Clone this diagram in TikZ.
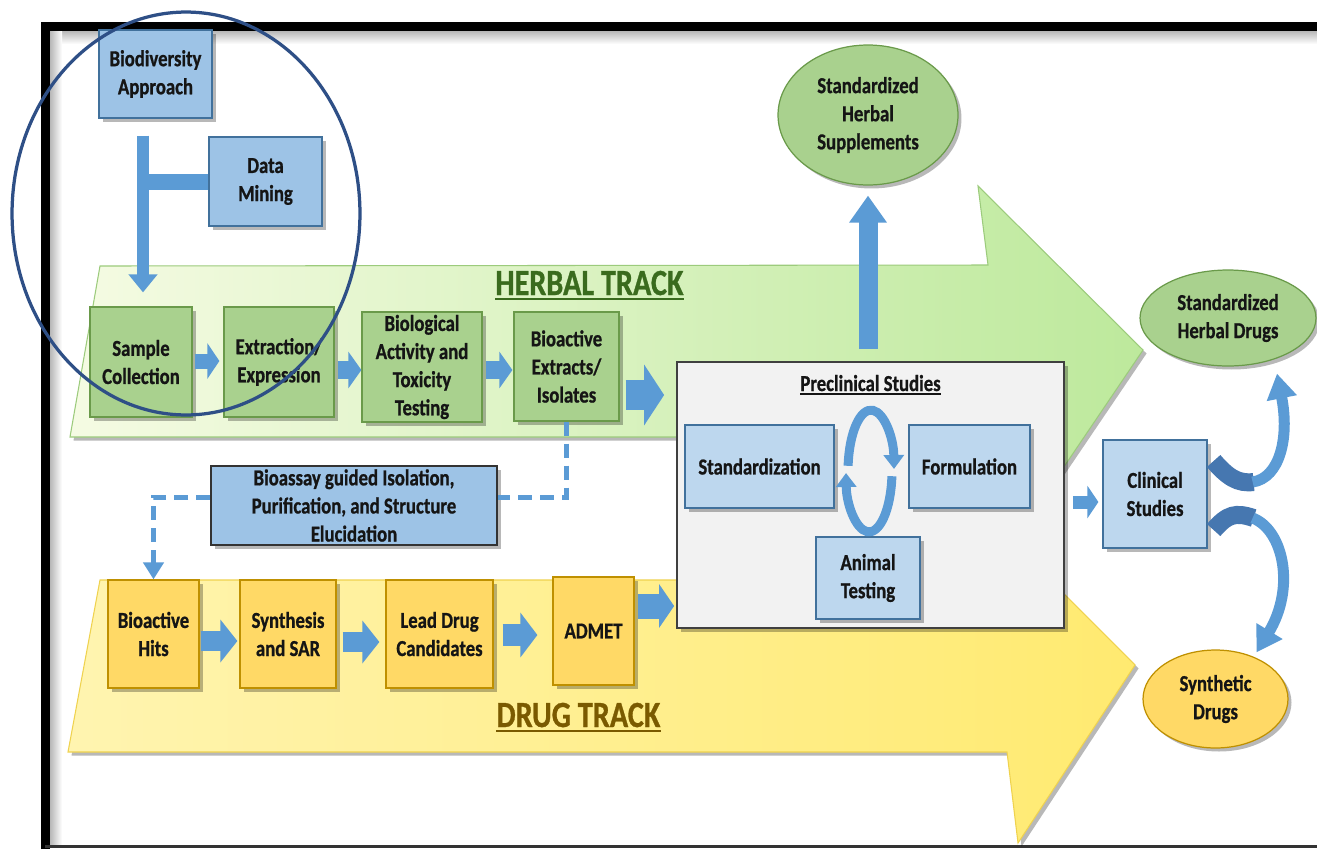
\documentclass[tikz,border=0pt]{standalone}
\usepackage{fontspec}
\setmainfont{Carlito}[FakeStretch=0.82,BoldFeatures={FakeBold=0.8}]
\usetikzlibrary{shapes.geometric,arrows.meta,shadows,calc}
\definecolor{hfill}{HTML}{A9D18E}
\definecolor{hdraw}{HTML}{6A9A4A}
\definecolor{dfill}{HTML}{FFD966}
\definecolor{ddraw}{HTML}{BF9000}
\definecolor{bfill}{HTML}{BDD7EE}
\definecolor{bfill2}{HTML}{9DC3E6}
\definecolor{bdraw}{HTML}{41719C}
\definecolor{arr}{HTML}{5B9BD5}
\definecolor{arrD}{HTML}{4677B0}
\definecolor{circ}{HTML}{2E4F86}
\definecolor{htxt}{HTML}{3A6B1E}
\definecolor{dtxt}{HTML}{7A5A00}
\definecolor{txt}{HTML}{151515}
\definecolor{gl}{HTML}{F5FBE3}
\definecolor{gr}{HTML}{BDE99C}
\definecolor{gedge}{HTML}{9CCB7C}
\definecolor{yl}{HTML}{FFF4B0}
\definecolor{ym}{HTML}{FFF98E}
\definecolor{yr}{HTML}{FFEA70}
\definecolor{yedge}{HTML}{EFD24E}
\definecolor{pfill}{HTML}{F2F2F2}
\newcommand\bx[7]{\node[#2, minimum width={(#5-#3)*0.02cm}, minimum height={(#6-#4)*0.02cm}] (#1) at ({(#3+#5)/2},{(#4+#6)/2}) {#7};}
\begin{document}
\begin{tikzpicture}[x=0.02cm,y=-0.02cm,
  shd/.style={drop shadow={shadow xshift=0.07cm,shadow yshift=-0.07cm,opacity=0.28,fill=black}},
  tx/.style={align=center,text=txt,font=\fontsize{13}{16}\selectfont\bfseries,inner sep=1pt},
  hbox/.style={tx,rectangle,fill=hfill,draw=hdraw,line width=0.7pt,shd},
  dbox/.style={tx,rectangle,fill=dfill,draw=ddraw,line width=0.7pt,shd},
  bbox/.style={tx,rectangle,fill=bfill,draw=bdraw,line width=0.7pt,shd},
  lbox/.style={tx,rectangle,fill=bfill2,draw=bdraw,line width=0.7pt,shd},
  asbox/.style={tx,rectangle,fill=bfill2,draw=black!80,line width=1pt,shd},
  prebox/.style={rectangle,fill=pfill,draw=black!75,line width=1pt,shd},
  oval/.style={tx,ellipse,inner sep=0pt,line width=0.7pt,shd},
  ba/.style n args={3}{draw=arr,line width=#1,-{Triangle[width=#2,length=#3]}},
  dashline/.style={draw=arr,line width=0.1cm,dash pattern=on 0.28cm off 0.16cm},
  looparr/.style={draw=arr,line width=0.18cm,-{Triangle[width=0.4cm,length=0.28cm]}},
  trk/.style={font=\fontsize{21}{24}\selectfont\bfseries,inner sep=0pt,anchor=base}
]
\useasboundingbox (0,0) rectangle (1317,849);
\fill[white] (0,0) rectangle (1317,849);
% frame and its inner shadow
\shade[top color=black!28,bottom color=white] (50,31) rectangle (1317,44);
\shade[left color=black!28,right color=white] (50,31) rectangle (62,846);
\draw[line width=0.19cm] (45.5,849) -- (45.5,26.5) -- (1317,26.5);
\draw[line width=0.05cm,black!80] (45,846.5) -- (1317,846.5);

% track arrows
\path[draw=gedge,line width=0.6pt,left color=gl,right color=gr,shd]
  (100,266) -- (988,265) -- (978,186) -- (1143,350) -- (1032,514) -- (1028,437) -- (70,437) -- cycle;
\path[draw=yedge,line width=0.6pt,left color=yl,middle color=ym,right color=yr,shd]
  (100,580) -- (967,580) -- (957,487) -- (1135,665) -- (1018,843) -- (1007,752) -- (68,752) -- cycle;

\node[trk,text=htxt] (ht) at (589.5,295) {HERBAL TRACK};
\draw[htxt,line width=1.3pt] ($(ht.base west)+(0,4)$) -- ($(ht.base east)+(0,4)$);
\node[trk,text=dtxt] (dt) at (578.5,727) {DRUG TRACK};
\draw[dtxt,line width=1.3pt] ($(dt.base west)+(0,4)$) -- ($(dt.base east)+(0,4)$);

% top boxes
\bx{bd}{lbox}{99}{30}{212}{118}{Biodiversity\\Approach}
\bx{dm}{lbox}{209}{137}{322}{226}{Data\\Mining}

% herbal row
\bx{sc}{hbox}{90}{307}{192}{417}{Sample\\Collection}
\bx{ex}{hbox}{224}{307}{334}{417}{Extraction/\\Expression}
\bx{bio}{hbox}{362}{312}{482}{422}{Biological\\Activity and\\Toxicity\\Testing}
\bx{bae}{hbox}{514}{312}{619}{421}{Bioactive\\Extracts/\\Isolates}

% preclinical
\bx{pre}{prebox}{677}{362}{1064}{628}{}
\node[tx,anchor=base,inner sep=0pt] (pst) at (870.5,391) {Preclinical Studies};
\draw[txt,line width=0.8pt] ($(pst.base west)+(0,3)$) -- ($(pst.base east)+(0,3)$);
\bx{std}{bbox}{685}{425}{834}{508}{Standardization}
\bx{frm}{bbox}{909}{425}{1030}{508}{Formulation}
\bx{ani}{bbox}{816}{537}{920}{619}{Animal\\Testing}
\coordinate (lp) at (870,471);
\draw[looparr] ($(lp)+(-21.9,-5.2)$) arc[start angle=175,end angle=2,x radius=0.46cm,y radius=1.22cm];
\draw[looparr] ($(lp)+(21.9,5.2)$) arc[start angle=-5,end angle=-178,x radius=0.46cm,y radius=1.22cm];

% clinical and outcomes
\bx{cs}{bbox}{1103}{440}{1207}{548}{Clinical\\Studies}
\node[oval,fill=hfill,draw=hdraw,minimum width=3.6cm,minimum height=2.8cm] (sup) at (868,115) {Standardized\\Herbal\\Supplements};
\node[oval,fill=hfill,draw=hdraw,minimum width=3.52cm,minimum height=1.92cm] (hd) at (1228,318) {Standardized\\Herbal Drugs};
\node[oval,fill=dfill,draw=ddraw,minimum width=2.9cm,minimum height=1.96cm] (sd) at (1215.5,699) {Synthetic\\Drugs};

% bioassay
\bx{bas}{asbox}{211}{466}{497}{545}{Bioassay guided Isolation,\\Purification, and Structure\\Elucidation}

% drug row
\bx{hits}{dbox}{108}{580}{199}{688}{Bioactive\\Hits}
\bx{syn}{dbox}{240}{580}{336}{688}{Synthesis\\and SAR}
\bx{lead}{dbox}{386}{580}{493}{688}{Lead Drug\\Candidates}
\bx{adm}{dbox}{553}{577}{634}{685}{ADMET}

% connectors: herbal row
\coordinate (v1) at ($(bd.south)+(-12.5,17)$);
\draw[arr,line width=0.32cm] (dm.west) -- (dm.west -| v1);
\draw[ba={0.24cm}{0.56cm}{0.36cm}] (v1) -- ($(v1 |- sc.north)+(0,-14)$);
\draw[ba={0.3cm}{0.7cm}{0.24cm}] ($(sc.east |- 0,361)+(2,0)$) -- ($(ex.west |- 0,361)+(-4,0)$);
\draw[ba={0.36cm}{0.72cm}{0.26cm}] ($(ex.east |- 0,370)+(3,0)$) -- ($(bio.west |- 0,370)+(0,0)$);
\draw[ba={0.36cm}{0.72cm}{0.26cm}] ($(bio.east |- 0,370)+(3,0)$) -- ($(bae.west |- 0,370)+(-1,0)$);
\draw[ba={0.6cm}{1.2cm}{0.4cm}] ($(bae.east |- 0,395)+(6,0)$) -- ($(pre.west |- 0,395)+(-12,0)$);
\draw[ba={0.38cm}{0.72cm}{0.54cm}] ($(pre.north)+(-2.5,-12)$) -- ($(sup.south)+(0,10)$);

% dashed bioassay path
\draw[dashline] (bae.south) -- (bae.south |- 0,497) -- (bas.east |- 0,497);
\draw[dashline,-{Triangle[width=0.4cm,length=0.34cm]}] (bas.west |- 0,497) -| (hits.north);

% connectors: drug row
\draw[ba={0.4cm}{0.84cm}{0.34cm}] ($(hits.east |- 0,641)+(1,0)$) -- ($(syn.west |- 0,641)+(-2,0)$);
\draw[ba={0.4cm}{0.84cm}{0.34cm}] ($(syn.east |- 0,642)+(6,0)$) -- ($(lead.west |- 0,642)+(-6,0)$);
\draw[ba={0.44cm}{0.88cm}{0.34cm}] ($(lead.east |- 0,635)+(9,0)$) -- ($(adm.west |- 0,635)+(-15,0)$);
\draw[ba={0.5cm}{0.86cm}{0.3cm}] ($(adm.east |- 0,606)+(3,0)$) -- ($(pre.west |- 0,606)+(-2,0)$);

% clinical connectors
\draw[ba={0.26cm}{0.64cm}{0.22cm}] ($(pre.east |- 0,502)+(8,0)$) -- ($(cs.west |- 0,502)+(-4,0)$);
\coordinate (u1) at ($(cs.east)+(6,-33)$);
\coordinate (u2) at ($(cs.east)+(46,-12)$);
\draw[arrD,line width=0.36cm] (u1) .. controls ($(u1)+(14,16)$) and ($(u2)+(-16,2)$) .. (u2);
\draw[draw=arr,line width=0.22cm,-{Triangle[width=0.58cm,length=0.5cm]}] ($(u2)+(-1,0)$) .. controls ($(u2)+(26,-4)$) and ($(u2)+(36,-44)$) .. ($(hd.south)+(49,7)$);
\coordinate (l1) at ($(cs.east)+(6,36)$);
\coordinate (l2) at ($(cs.east)+(46,24)$);
\draw[arrD,line width=0.36cm] (l1) .. controls ($(l1)+(14,-16)$) and ($(l2)+(-18,-6)$) .. (l2);
\draw[draw=arr,line width=0.22cm,-{Triangle[width=0.58cm,length=0.5cm]}] ($(l2)+(-1,0)$) .. controls ($(l2)+(30,12)$) and ($(l2)+(42,70)$) .. ($(sd.north)+(41,3)$);

% highlight circle
\draw[circ,line width=0.065cm] (186,213.5) ellipse [x radius=3.48cm, y radius=4.03cm];
\end{tikzpicture}
\end{document}
